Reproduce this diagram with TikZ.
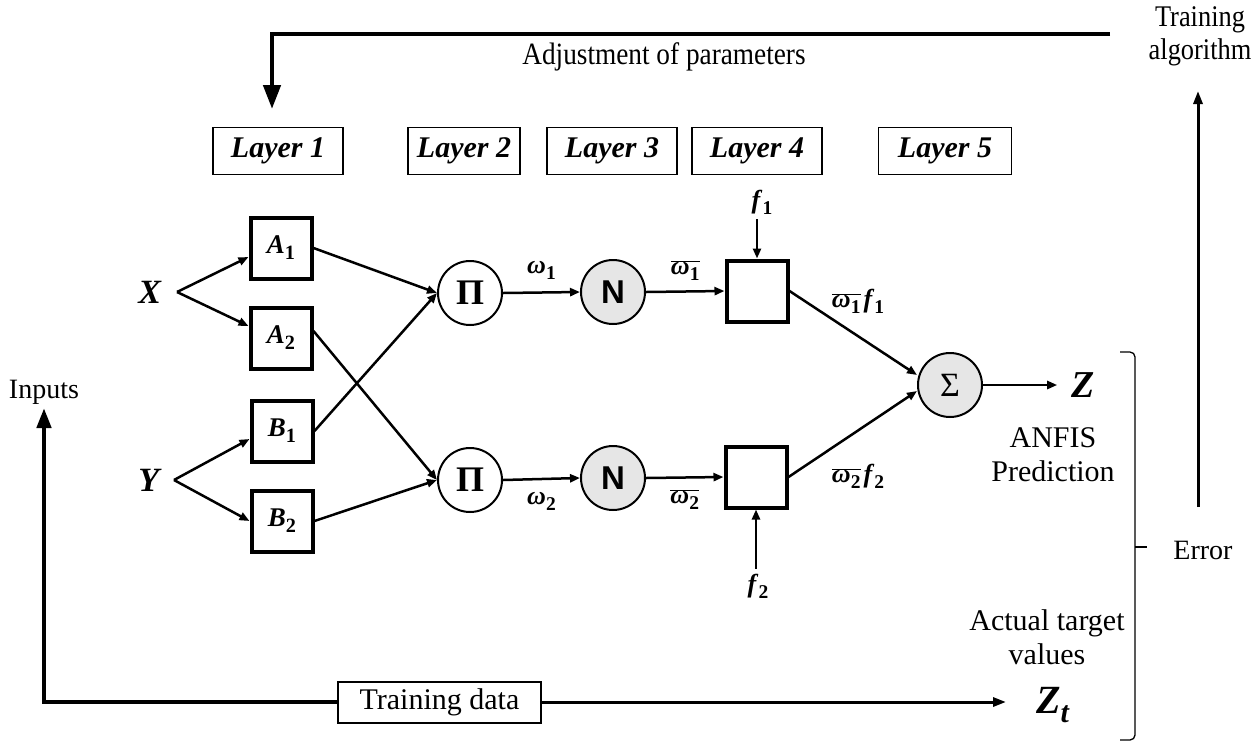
\documentclass[tikz,border=0pt]{standalone}
\usepackage{graphicx}
\usepackage{fontspec}
\setmainfont{Liberation Serif}
\newfontfamily\arialbold{Liberation Sans}
\newfontfamily\narrowserif[FakeStretch=0.88]{Liberation Serif}
\usetikzlibrary{arrows.meta}
\definecolor{opfill}{RGB}{230,230,230}
% bold italic variable with an upright bold subscript
\newcommand{\mv}[2]{\textbf{\textit{#1}}\raisebox{-0.22em}{\scalebox{0.75}{\textbf{#2}}}}
\newcommand{\bv}[1]{\textbf{\textit{#1}}}
\newcommand{\ovl}[1]{$\overline{\hbox{#1}}$}

\begin{document}
\begin{tikzpicture}[x=1pt,y=-1pt,
  every node/.style={inner sep=0pt},
  mfbox/.style={draw,line width=4pt,minimum size=61pt,font=\fontsize{27}{30}\selectfont},
  prodbox/.style={draw,line width=4pt,minimum size=61pt},
  opnode/.style={draw,circle,line width=2pt,minimum size=64pt},
  layerbox/.style={draw,line width=1.5pt,minimum height=47pt,font=\fontsize{30}{34}\selectfont\bfseries\itshape},
  net/.style={line width=2.5pt,-{Triangle[length=10pt,width=8pt]}},
  feedback/.style={line width=4.5pt},
  lbl/.style={font=\fontsize{30}{34}\selectfont,align=center},
  wl/.style={font=\fontsize{26}{29}\selectfont},
  var/.style={font=\fontsize{34}{38}\selectfont}]

\useasboundingbox (0,0) rectangle (1257,742);

% layer headers
\node[layerbox,minimum width=130pt] (L1) at (278,151) {Layer 1};
\node[layerbox,minimum width=112pt] (L2) at (464,151) {Layer 2};
\node[layerbox,minimum width=130pt] (L3) at (612,151) {Layer 3};
\node[layerbox,minimum width=130pt] (L4) at (757,151) {Layer 4};
\node[layerbox,minimum width=133pt] (L5) at (945,151) {Layer 5};

% inputs
\node[var] (X) at (150,292) {\bv{X}};
\node[var] (Y) at (150,480) {\bv{Y}};
\coordinate (xs) at (177,292);
\coordinate (ys) at (174,480);

% layer 1: membership functions
\node[mfbox] (A1) at (281,248) {\mv{A}{1}};
\node[mfbox] (A2) at (281,338) {\mv{A}{2}};
\node[mfbox] (B1) at (282,431) {\mv{B}{1}};
\node[mfbox] (B2) at (282,521) {\mv{B}{2}};

% layer 2: product nodes
\node[opnode,fill=white,font=\fontsize{36}{40}\selectfont\bfseries] (P1) at (470,293) {Π};
\node[opnode,fill=white,font=\fontsize{36}{40}\selectfont\bfseries] (P2) at (470,480) {Π};

% layer 3: normalisation nodes
\node[opnode,fill=opfill,font=\arialbold\fontsize{33}{37}\selectfont\bfseries] (N1) at (613,292) {N};
\node[opnode,fill=opfill,font=\arialbold\fontsize{33}{37}\selectfont\bfseries] (N2) at (613,478) {N};

% layer 4: consequent nodes
\node[prodbox] (Q1) at (757,291) {};
\node[prodbox] (Q2) at (756,477) {};
\node[wl] (f1) at (762,202) {\mv{f}{1}};
\node[wl] (f2) at (758,586) {\mv{f}{2}};

% layer 5: summation
\node[opnode,fill=opfill,font=\fontsize{34}{38}\selectfont] (S) at (950,385) {Σ};
\node[font=\fontsize{38}{42}\selectfont] (Z) at (1083,385) {\bv{Z}};

% connections
\draw[net] (xs) -- ([yshift=-9pt]A1.west);
\draw[net] (xs) -- ([yshift=12pt]A2.west);
\draw[net] (ys) -- ([yshift=-8pt]B1.west);
\draw[net] (ys) -- (B2.west);
\draw[net] (A1.east) -- (P1.west);
\draw[net] ([yshift=7pt]A2.east) -- (P2.west);
\draw[net] (B1.east) -- (P1.west);
\draw[net] (B2.east) -- (P2.west);
\draw[net] (P1.east) -- node[above=12pt,wl] {\mv{ω}{1}} (N1.west);
\draw[net] (P2.east) -- node[below=12pt,wl] {\mv{ω}{2}} (N2.west);
\draw[net] (N1.east) -- node[above=10pt,wl] {\ovl{\mv{ω}{1}}} (Q1.west);
\draw[net] (N2.east) -- node[below=11pt,wl] {\ovl{\mv{ω}{2}}} (Q2.west);
\draw[net] (f1.south -| Q1.north) ++(0,5) -- (Q1.north);
\draw[net] (f2.north -| Q2.south) ++(0,-5) -- (Q2.south);
\draw[net] (Q1.east) -- ([yshift=10pt]S.west);
\draw[net] (Q2.east) -- ([yshift=-6pt]S.west);
\node[wl] (w1f1) at (858,301) {\ovl{\mv{ω}{1}}\hspace{3pt}\mv{f}{1}};
\node[wl] (w2f2) at (858,476) {\ovl{\mv{ω}{2}}\hspace{3pt}\mv{f}{2}};
\draw[net,shorten >=14pt] (S.east) -- (Z.west);

% outputs and comparison
\node[lbl] (pred) at (1053,455) {ANFIS\\Prediction};
\node[lbl] (actual) at (1047,637) {Actual target\\values};
\node[font=\fontsize{40}{44}\selectfont] (Zt) at (1053,705) {\bv{Z}\raisebox{-0.22em}{\scalebox{0.75}{\bv{t}}}};
\node[lbl,font=\fontsize{28}{32}\selectfont] (err) at (1203,550) {Error};
\draw[line width=1.3pt,rounded corners=5pt]
  (1120,352) -- (1135,352) -- (1135,740) -- (1120,740);
\draw[line width=1.3pt] (1135,547) -- (1147,547);

% training loop
\node[draw,line width=2pt,minimum width=203pt,minimum height=41pt,lbl] (td) at (439.5,702) {Training data};
\node[lbl,font=\fontsize{28}{32}\selectfont] (inp) at (44,392) {Inputs};
\coordinate (inptip) at (44,408);
\draw[feedback,-{Triangle[length=20pt,width=14pt]}] (td.west) -| (inptip);
\coordinate (zttip) at (1006,702);
\draw[line width=3pt,-{Triangle[length=13pt,width=9pt]}] (td.east) -- (zttip);

\node[align=center,font=\narrowserif\fontsize{30}{33}\selectfont] (talg) at (1200,36) {Training\\algorithm};
\coordinate (errbot) at (1198,507);
\coordinate (errtop) at (1198,91);
\draw[line width=3pt,-{Triangle[length=13pt,width=9pt]}] (errbot) -- (errtop);

\node[font=\narrowserif\fontsize{31}{34}\selectfont] (adj) at (664,57) {Adjustment of parameters};
\coordinate (adjstart) at (1110,34);
\coordinate (adjend) at (272,109);
\draw[feedback,-{Triangle[length=24pt,width=17pt]}] (adjstart) -| (adjend);
\end{tikzpicture}
\end{document}
